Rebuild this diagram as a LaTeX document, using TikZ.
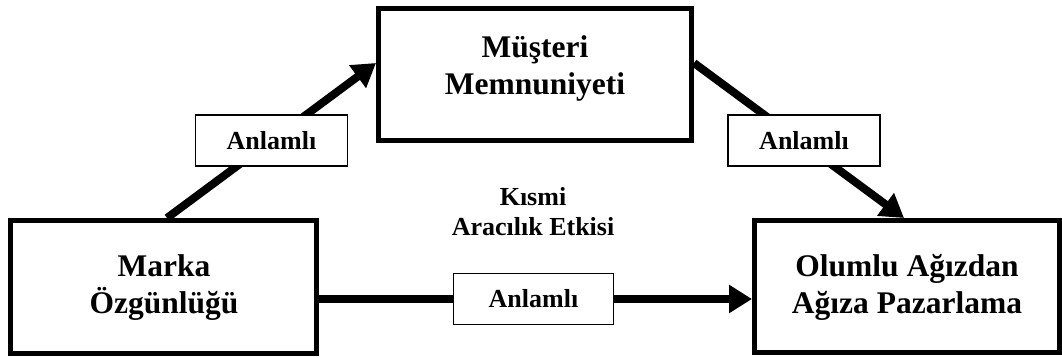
\documentclass[tikz,border=0pt]{standalone}
\usepackage{fontspec}
\setmainfont{Liberation Serif}
\usetikzlibrary{arrows.meta,calc}
\begin{document}
\begin{tikzpicture}[x=1pt,y=-1pt,
  bigbox/.style={draw, line width=5pt, fill=white, inner sep=0pt},
  bigtext/.style={align=center, font=\bfseries\fontsize{31.5}{37}\selectfont, inner sep=0pt},
  lbl/.style={draw, line width=1.3pt, fill=white, inner sep=0pt, minimum height=51pt,
    font=\bfseries\fontsize{26}{30}\selectfont},
  conn/.style={line width=8pt, -{Triangle[length=23pt,width=27pt]}},
  plain/.style={line width=8pt}]
\useasboundingbox (0,0) rectangle (1062,358);
% boxes
\node[bigbox, minimum width=306pt, minimum height=133pt] (ma) at (163.5,287) {};
\node[bigbox, minimum width=313pt, minimum height=132pt] (ms) at (535,74.5) {};
\node[bigbox, minimum width=305pt, minimum height=132pt] (ol) at (907,286.5) {};
\node[bigtext] (matext) at (164,288) {Marka\\Özgünlüğü};
\node[bigtext] (mstext) at (535,68) {Müşteri\\Memnuniyeti};
\node[bigtext] (oltext) at (907,287) {Olumlu Ağızdan\\Ağıza Pazarlama};
% connectors
\draw[conn] ($(ma.north)+(3.5,0)$) -- ($(ms.west)+(0,-11.5)$);
\draw[conn] ($(ms.east)+(0,-11.5)$) -- ($(ol.north)+(-3,0)$);
\draw[conn] ($(ma.east)+(0,12)$) -- ($(ol.west)+(0,12.5)$);
% labels
\node[lbl, minimum width=152pt] (l1) at (271.5,140.5) {Anlamlı};
\node[lbl, minimum width=152pt] (l2) at (804,140.5) {Anlamlı};
\node[lbl, minimum width=160pt] (l3) at (533.5,299) {Anlamlı};
\node[align=center, inner sep=0pt, font=\bfseries\fontsize{26}{30}\selectfont] (ka) at (533,212) {Kısmi\\Aracılık Etkisi};
\end{tikzpicture}
\end{document}
